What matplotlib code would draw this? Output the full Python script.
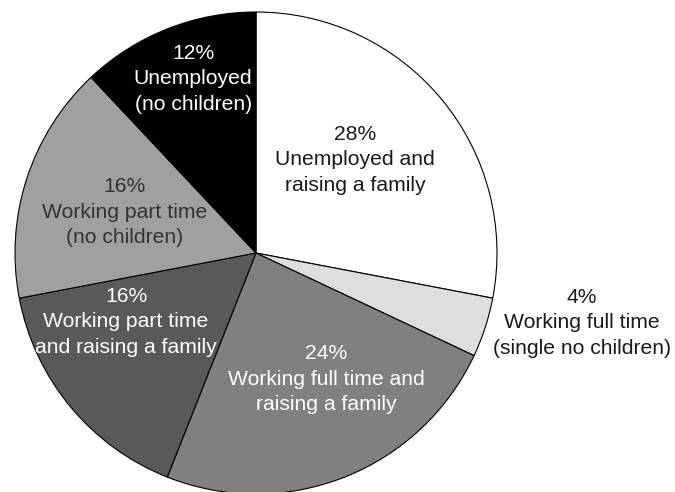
import matplotlib
matplotlib.use('Agg')
import matplotlib.pyplot as plt

plt.rcParams['font.family'] = ['Liberation Sans', 'DejaVu Sans']

# share of each group, clockwise from 12 o'clock
shares = [28, 4, 24, 16, 16, 12]
names = ['Unemployed and\nraising a family',
         'Working full time\n(single no children)',
         'Working full time and\nraising a family',
         'Working part time\nand raising a family',
         'Working part time\n(no children)',
         'Unemployed\n(no children)']
fills = ['#ffffff', '#dedede', '#808080', '#595959', '#a0a0a0', '#000000']
text_colors = ['#1a1a1a', '#1a1a1a', '#ffffff', '#ffffff', '#333333', '#ffffff']

# label centres, in pie radii from the centre
label_xy = [(0.411, 0.386), (1.353, -0.290), (0.290, -0.523),
            (-0.539, -0.286), (-0.544, 0.170), (-0.261, 0.722)]

fig = plt.figure(figsize=(6.75, 4.92), dpi=100)
ax = fig.add_axes([0, 0, 1, 1])

wedges, _ = ax.pie(shares, colors=fills, startangle=90, counterclock=False,
                   radius=1.0, center=(0, 0),
                   wedgeprops={'edgecolor': 'black', 'linewidth': 0.8})

for share, name, tc, (x, y) in zip(shares, names, text_colors, label_xy):
    ax.text(x, y, '%d%%\n%s' % (share, name), ha='center', va='center',
            color=tc, fontsize=15.2, linespacing=1.44)

ax.set_xlim(-256 / 241, 419 / 241)
ax.set_ylim(-239 / 241, 253 / 241)
ax.set_aspect('auto')
ax.axis('off')

fig.savefig('out.png', dpi=100, facecolor='white')
